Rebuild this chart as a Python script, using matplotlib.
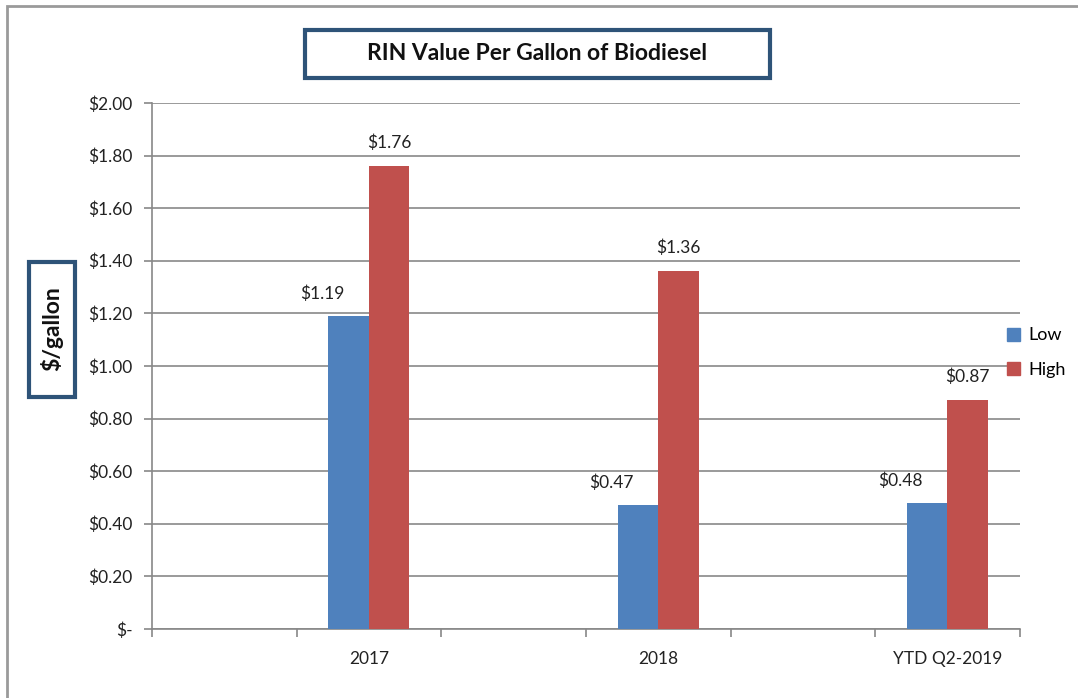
import matplotlib.pyplot as plt
from matplotlib.patches import Rectangle, Patch
import numpy as np

# Excel-style layout: blank slots between the labelled years
categories = ["", "2017", "", "2018", "", "YTD Q2-2019"]
low = [0, 1.19, 0, 0.47, 0, 0.48]
high = [0, 1.76, 0, 1.36, 0, 0.87]
yticks = [0.0, 0.2, 0.4, 0.6, 0.8, 1.0, 1.2, 1.4, 1.6, 1.8, 2.0]
ytick_labels = ["$-", "$0.20", "$0.40", "$0.60", "$0.80", "$1.00",
                "$1.20", "$1.40", "$1.60", "$1.80", "$2.00"]

BLUE = "#4F81BD"
RED = "#C0504D"
NAVY = "#2E5378"

plt.rcParams["font.family"] = ["Lato", "DejaVu Sans"]

fig = plt.figure(figsize=(10.78, 6.98), dpi=100)
ax = fig.add_axes([0.141, 0.099, 0.805, 0.7535])

x = np.arange(len(categories))
w = 0.28
ax.bar(x - w / 2, low, w, color=BLUE, zorder=3)
ax.bar(x + w / 2, high, w, color=RED, zorder=3)

# value labels only on real categories
for i, name in enumerate(categories):
    if not name:
        continue
    ax.annotate(f"${low[i]:.2f}", (x[i] - w / 2, low[i]), xytext=(-19, 16),
                textcoords="offset points", ha="center", va="center",
                fontsize=12.5, color="#222222")
    ax.annotate(f"${high[i]:.2f}", (x[i] + w / 2, high[i]), xytext=(0, 17),
                textcoords="offset points", ha="center", va="center",
                fontsize=12.5, color="#222222")

ax.set_xlim(-0.5, len(categories) - 0.5)
ax.set_ylim(0, 2.0)
ax.set_yticks(yticks)
ax.set_yticklabels(ytick_labels, fontsize=12.5, color="#222222")
ax.set_xticks(x)
ax.set_xticklabels(categories, fontsize=12.5, color="#222222")
ax.set_xticks(np.arange(-0.5, len(categories)), minor=True)
ax.tick_params(axis="x", which="major", length=0, pad=16)
ax.tick_params(axis="x", which="minor", length=6, color="#888888", width=1.2)
ax.tick_params(axis="y", length=6, color="#888888", width=1.2, pad=8)

ax.grid(axis="y", color="#7f7f7f", linewidth=1.1, zorder=0)
for side in ["top", "right"]:
    ax.spines[side].set_visible(False)
for side in ["left", "bottom"]:
    ax.spines[side].set_color("#888888")
    ax.spines[side].set_linewidth(1.2)

# legend on the right
handles = [Patch(color=BLUE, label="Low"), Patch(color=RED, label="High")]
fig.legend(handles=handles, loc="center left", bbox_to_anchor=(0.919, 0.495),
           frameon=False, fontsize=13, handlelength=0.75, handleheight=0.75,
           handletextpad=0.45, labelspacing=1.0)

# boxed title
fig.add_artist(Rectangle((305 / 1078, 1 - 78 / 698), 465 / 1078, 48 / 698,
                         transform=fig.transFigure, facecolor="white",
                         edgecolor=NAVY, linewidth=3))
fig.text(537 / 1078, 1 - 54 / 698, "RIN Value Per Gallon of Biodiesel",
         ha="center", va="center", fontsize=16.5, fontweight="bold", color="#111111")

# boxed y label
fig.add_artist(Rectangle((29 / 1078, 1 - 397 / 698), 46 / 1078, 135 / 698,
                         transform=fig.transFigure, facecolor="white",
                         edgecolor=NAVY, linewidth=3, zorder=5))
fig.text(52 / 1078, 1 - 329 / 698, "$/gallon", rotation=90, ha="center",
         va="center", fontsize=16.5, fontweight="bold", color="#111111", zorder=6)

# outer chart frame
fig.add_artist(Rectangle((7 / 1078, -0.05), 1.1, 1 - 6 / 698 + 0.05,
                         transform=fig.transFigure, fill=False,
                         edgecolor="#9a9a9a", linewidth=2))

fig.savefig("out.png", dpi=100)
